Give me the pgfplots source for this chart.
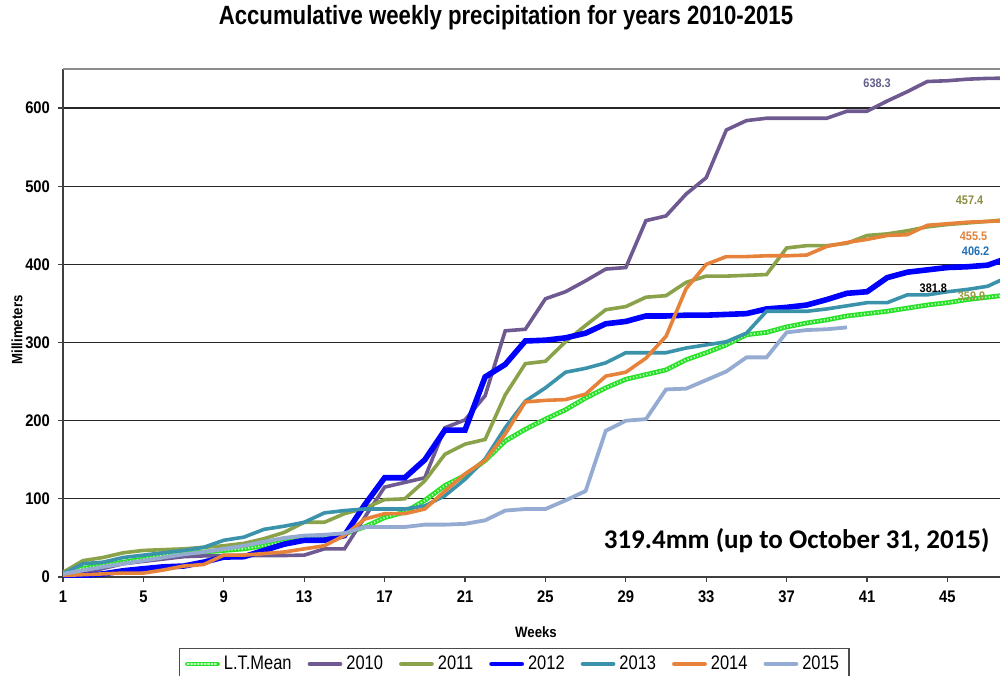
\documentclass[border=0pt]{standalone}
\usepackage{pgfplots}
\pgfplotsset{compat=1.18}
\usepackage{pgfplotstable}
\usepackage{fontspec}
\setmainfont{Liberation Sans}
\newfontfamily\arialn[FakeStretch=0.88]{Liberation Sans}
\newfontfamily\arialnn[FakeStretch=0.84]{Liberation Sans}
\newfontfamily\calib{Carlito}

\definecolor{c10}{RGB}{110,90,145}
\definecolor{c11}{RGB}{138,162,74}
\definecolor{c12}{RGB}{0,0,255}
\definecolor{c13}{RGB}{58,147,171}
\definecolor{c14}{RGB}{230,130,58}
\definecolor{c15}{RGB}{149,171,210}
\definecolor{clt}{RGB}{40,225,40}
\definecolor{cltdot}{RGB}{200,255,200}
\definecolor{lab10}{RGB}{95,95,138}
\definecolor{lab11}{RGB}{139,139,61}
\definecolor{lab14}{RGB}{224,130,60}
\definecolor{lab12}{RGB}{31,111,181}
\definecolor{labmean}{RGB}{154,154,64}

\pgfplotstableread{
w lt a10 a11 a12 a13 a14 a15
1 6 2 6 1 4 2 4
2 11 5 21 2 17 3 8.5
3 15 11 25 4 19 4 13
4 19 17 31 8 25 5 17
5 23 20 34 10.6 28 5 21
6 28 23 35 13 31 9 25
7 30 26 36 14 34 14 29
8 32 27 38 19 38 16 32
9 34 27.5 40 25.5 47 28 36
10 36 27.5 43 26 51 28 40
11 40 27.5 49 34 61 30 45
12 45 27.5 57 42 65 32 50
13 49 28 70 47 70 36 53
14 51 36 70 47 82 40 54
15 55 36 81 53 85 53 56
16 64 76 88 92 87 74 64
17 76 115 99 127 87 81 64
18 83 121 100 127 87 81 64
19 98 127 123 150 91 87 67
20 117 191 157 188 104 110 67
21 130 201 170 188 125 132 68
22 149 232 176 256 151 149 72.5
23 174 315 233 272 191 183 85
24 189 317 273 302 225 224 87
25 202 356 276 303 242 226 87
26 214 365 301 306 262 227 98
27 229 379 322 312 267 234 110
28 242 394 342 324 274 257 187
29 253 396 346 327 287 262 200
30 259 456 358 334 287 280 202
31 265 462 360 334 287 308 240
32 278 490 377 335 293 369 241
33 287 511 385 335 297 400 252
34 297 572 385 336 301 410 263
35 310 584 386 337 312 410 281
36 313 587 387 343 340 411 281
37 320 587 421 345 340 411 313
38 325 587 424 348 340 412 316
39 329 587 424 355 343 423 317
40 334 596 427 363 347 428 319.4
41 337 596 437 365 351 432 nan
42 340 609 439 383 351 437 nan
43 344 621 443 390 361 438 nan
44 348 634 448 393 361 450 nan
45 351 635 451 396 365 452 nan
46 355 637 453 397 368 454 nan
47 358 638 455 399 372 455 nan
48 361 638.3 457.4 408 384 456 nan
}\data

\begin{document}
\begin{tikzpicture}
\useasboundingbox (0,0) rectangle (500pt,337.5pt);
\begin{axis}[
  at={(31.5pt,49pt)}, anchor=south west,
  scale only axis, width=468.75pt, height=254pt,
  xmin=1, xmax=47.64, ymin=0, ymax=650,
  xtick={1,5,...,45}, ytick={0,100,...,600},
  axis x line*=bottom, axis y line*=left,
  axis line style={-, black!75, line width=0.8pt},
  tick align=outside,
  major tick length=2.5pt,
  tick style={black!75, line width=0.6pt},
  ymajorgrids, major grid style={black!85, line width=0.6pt},
  ticklabel style={font=\arialn\bfseries\fontsize{8.4}{10}\selectfont},
  xticklabel style={yshift=-1pt},
  yticklabel style={xshift=-0.5pt},
  /pgf/number format/assume math mode=true,
  legend columns=7,
  legend style={at={(0.4811,-0.1398)}, anchor=north, draw=black!70, line width=0.6pt,
    font=\arialnn\fontsize{9.8}{11}\selectfont, inner xsep=3pt, inner ysep=1.5pt,
    /tikz/every even column/.append style={column sep=6pt}},
  legend image code/.code={\draw[#1,line width=2.4pt,line cap=round] (0pt,0pt) -- (15pt,0pt);},
]
\addplot[clt, line width=2.4pt, postaction={draw, color=cltdot, line width=0.9pt, dash pattern=on 0.6pt off 1.1pt}] table[x=w,y=lt]{\data};
\addlegendentry{L.T.Mean}
\addplot[c10, line width=1.8pt] table[x=w,y=a10]{\data};
\addlegendentry{2010}
\addplot[c11, line width=1.8pt] table[x=w,y=a11]{\data};
\addlegendentry{2011}
\addplot[c12, line width=2.8pt] table[x=w,y=a12]{\data};
\addlegendentry{2012}
\addplot[c13, line width=1.8pt] table[x=w,y=a13]{\data};
\addlegendentry{2013}
\addplot[c14, line width=1.8pt] table[x=w,y=a14]{\data};
\addlegendentry{2014}
\addplot[c15, line width=1.9pt] table[x=w,y=a15]{\data};
\addlegendentry{2015}

\node[font=\arialn\bfseries\fontsize{6.2}{7}\selectfont, text=lab10] at (axis cs:41.5,632) {638.3};
\node[font=\arialn\bfseries\fontsize{6.2}{7}\selectfont, text=lab11] at (axis cs:46.1,482) {457.4};
\node[font=\arialn\bfseries\fontsize{6.2}{7}\selectfont, text=lab14] at (axis cs:46.3,436) {455.5};
\node[font=\arialn\bfseries\fontsize{6.2}{7}\selectfont, text=lab12] at (axis cs:46.4,417) {406.2};
\node[font=\arialn\bfseries\fontsize{6.2}{7}\selectfont, text=black] at (axis cs:44.3,370) {381.8};
\node[font=\arialn\bfseries\fontsize{6.2}{7}\selectfont, text=labmean] at (axis cs:46.2,359) {359.9};
\node[font=\calib\bfseries\fontsize{13.5}{15}\selectfont] at (axis cs:37.5,46) {319.4mm (up to October 31, 2015)};
\end{axis}
\draw[black!45, line width=1pt] (31.5pt,303pt) -- (500pt,303pt);
\node[font=\arialnn\bfseries\fontsize{13.2}{15}\selectfont] at (253pt,328.5pt) {Accumulative weekly precipitation for years 2010-2015};
\node[rotate=90, font=\arialn\bfseries\fontsize{7.5}{9}\selectfont] at (8.5pt,172.5pt) {Millimeters};
\node[font=\arialn\bfseries\fontsize{7.5}{9}\selectfont] at (268pt,21.5pt) {Weeks};
\end{tikzpicture}
\end{document}
